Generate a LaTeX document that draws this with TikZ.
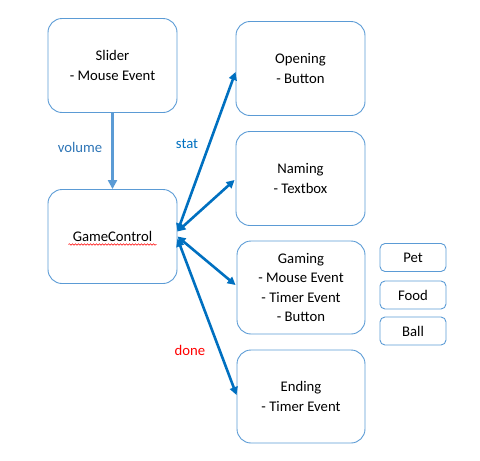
\documentclass[tikz,border=0pt]{standalone}
\usepackage{fontspec}
\setmainfont{Carlito}
\usetikzlibrary{arrows.meta,calc,decorations.pathmorphing}
\definecolor{boxline}{HTML}{5B9BD5}
\definecolor{arrowblue}{HTML}{0070C0}
\definecolor{lblblue}{HTML}{2E75B6}
\begin{document}
\begin{tikzpicture}[x=1pt,y=-1pt,
  box/.style={draw=boxline,line width=0.9pt,rounded corners=14pt,align=center,
    font=\fontsize{14.7}{19.6}\selectfont,inner sep=0pt},
  bigbox/.style={box,minimum width=129pt,minimum height=94pt},
  smallbox/.style={box,rounded corners=5pt,minimum width=66pt,minimum height=28pt},
  link/.style={arrowblue,line width=2.6pt,{Triangle[length=8pt,width=8pt]}-{Triangle[length=8pt,width=8pt]}},
  lbl/.style={font=\fontsize{14.7}{17}\selectfont,inner sep=0pt}]
\useasboundingbox (0,0) rectangle (480,461);
\node[bigbox] (slider) at (112.5,65.5) {Slider\\- Mouse Event};
\node[bigbox] (gc) at (112.5,236.5) {GameControl};
\node[bigbox] (opening) at (300.5,68.5) {Opening\\- Button};
\node[bigbox] (naming) at (300.5,178.5) {Naming\\- Textbox};
\node[bigbox,minimum width=128pt,minimum height=93pt] (gaming) at (301,287.5) {Gaming\\- Mouse Event\\- Timer Event\\- Button};
\node[bigbox,minimum width=128pt,minimum height=93pt] (ending) at (301,396.5) {Ending\\- Timer Event};
\node[smallbox] (pet) at (413,257.5) {Pet};
\node[smallbox] (food) at (413,295) {Food};
\node[smallbox] (ball) at (413,331) {Ball};
% spell-check underline
\coordinate (ul1) at ($(gc.center)+(-44,8)$);
\coordinate (ul2) at ($(gc.center)+(44,8)$);
\draw[red,line width=0.5pt,decorate,decoration={snake,amplitude=0.8pt,segment length=3pt}] (ul1) -- (ul2);
% volume arrow
\draw[boxline,line width=2.6pt,-{Triangle[length=9pt,width=9pt]}] (slider.south) -- (gc.north);
\node[lbl,text=lblblue] (vol) at (80,147) {volume};
% links
\draw[link] ($(gc.east)+(0,-5)$) -- ($(opening.west)+(0,3.5)$);
\draw[link] ($(gc.east)+(0,-5)$) -- ($(naming.west)+(-1,1.5)$);
\draw[link] ($(gc.east)+(0,0)$) -- ($(gaming.west)+(-1,-2.5)$);
\draw[link] ($(gc.east)+(0,2)$) -- ($(ending.west)+(0,-1.5)$);
\node[lbl,text=arrowblue] (stat) at (187,144) {stat};
\node[lbl,text=red] (done) at (190,350) {done};
\end{tikzpicture}
\end{document}
